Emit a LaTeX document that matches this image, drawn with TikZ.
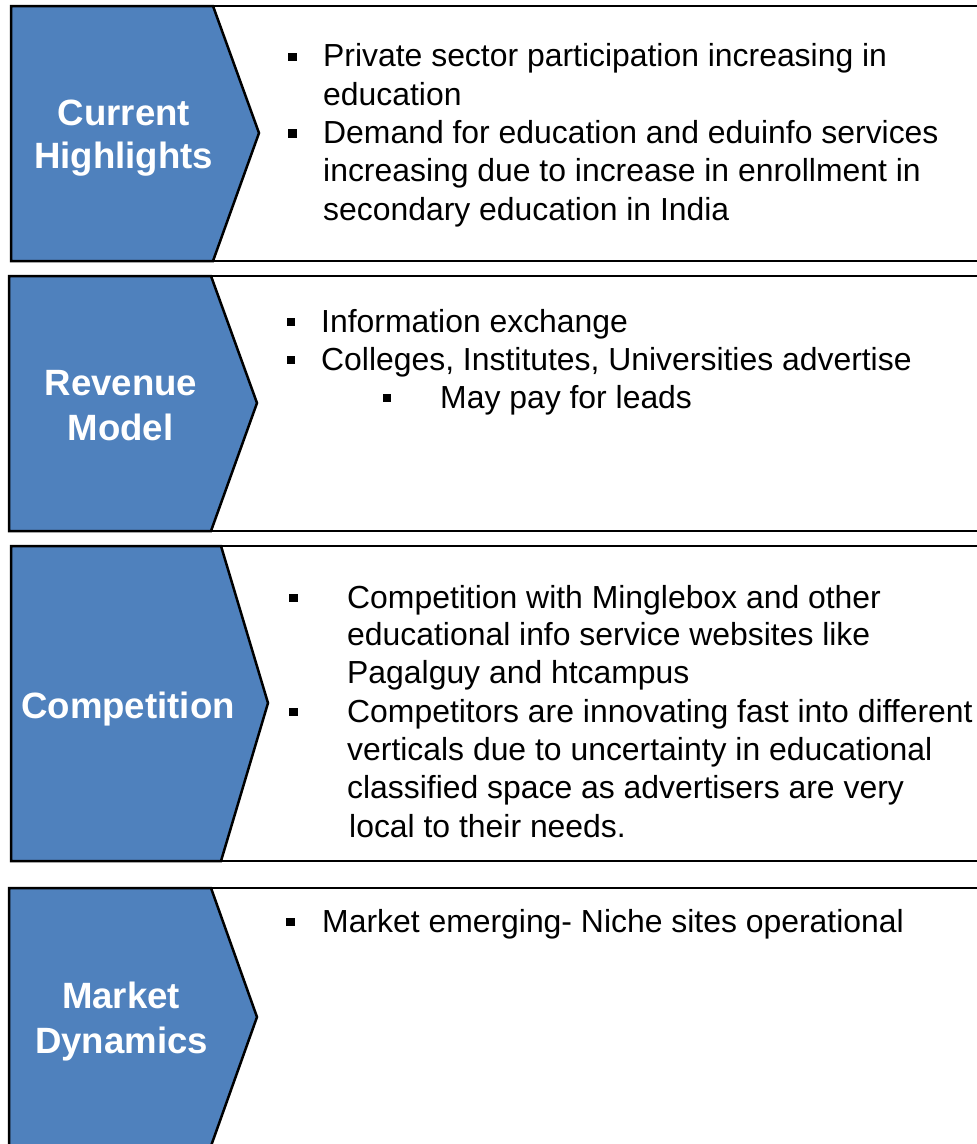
\documentclass[tikz,border=0pt]{standalone}
\usepackage{fontspec}
\setmainfont{Liberation Sans}
\definecolor{chev}{RGB}{79,129,189}
\tikzset{
  panel/.style={draw=black, line width=2.5pt, fill=white},
  chevron/.style={draw=black, line width=2.5pt, fill=chev, line join=miter},
  head/.style={text=white, font=\fontsize{36.6}{43}\selectfont\bfseries, anchor=base, inner sep=0pt},
  body/.style={font=\fontsize{31.9}{38}\selectfont, anchor=base west, inner sep=0pt},
  sq/.style={fill=black, draw=none, minimum size=8.5pt, inner sep=0pt}
}
\begin{document}
\begin{tikzpicture}[x=1pt,y=-1pt]
\useasboundingbox (0,0) rectangle (977,1144);
\clip (0,0) rectangle (977,1144);
\fill[white] (0,0) rectangle (977,1144);

% Panel 1
\draw[panel] (11,6) rectangle (995,261);
\draw[chevron] (11,6) -- (213,6) -- (259,133) -- (213,261) -- (11,261) -- cycle;
\node[head] (h1a) at (124,125) {Current};
\node[head] (h1b) at (123.5,168) {Highlights};
\node[sq] (b1a) at (292.5,57) {};
\node[body] (t1a) at (323,66.7) {Private sector participation increasing in};
\node[body] (t1b) at (323,105) {education};
\node[sq] (b1b) at (292.5,133.5) {};
\node[body] (t1c) at (323,143.3) {Demand for education and eduinfo services};
\node[body] (t1d) at (323,181.7) {increasing due to increase in enrollment in};
\node[body] (t1e) at (323,220) {secondary education in India};

% Panel 2
\draw[panel] (9,276) rectangle (995,531);
\draw[chevron] (9,276) -- (211,276) -- (257,403) -- (211,531) -- (9,531) -- cycle;
\node[head] (h2a) at (121,395) {Revenue};
\node[head] (h2b) at (120.5,440) {Model};
\node[sq] (b2a) at (291,322) {};
\node[body] (t2a) at (321,332) {Information exchange};
\node[sq] (b2b) at (291,360) {};
\node[body] (t2b) at (321,370) {Colleges, Institutes, Universities advertise};
\node[sq] (b2c) at (387,398) {};
\node[body] (t2c) at (440,408) {May pay for leads};

% Panel 3
\draw[panel] (11,546) rectangle (995,861);
\draw[chevron] (11,546) -- (221,546) -- (268,703) -- (221,861) -- (11,861) -- cycle;
\node[head] (h3a) at (128,718) {Competition};
\node[sq] (b3a) at (293.5,598) {};
\node[body] (t3a) at (347,608) {Competition with Minglebox and other};
\node[body] (t3b) at (347,645.5) {educational info service websites like};
\node[body] (t3c) at (347,683.5) {Pagalguy and htcampus};
\node[sq] (b3b) at (293.5,712) {};
\node[body] (t3d) at (347,722) {Competitors are innovating fast into different};
\node[body] (t3e) at (347,760) {verticals due to uncertainty in educational};
\node[body] (t3f) at (347,798) {classified space as advertisers are very};
\node[body] (t3g) at (349,837) {local to their needs.};

% Panel 4
\draw[panel] (9,888) rectangle (995,1146);
\draw[chevron] (9,888) -- (211,888) -- (257,1017) -- (211,1146) -- (9,1146) -- cycle;
\node[head] (h4a) at (121,1008) {Market};
\node[head] (h4b) at (121.5,1053) {Dynamics};
\node[sq] (b4a) at (290.5,922) {};
\node[body] (t4a) at (322,932) {Market emerging- Niche sites operational};
\end{tikzpicture}
\end{document}
